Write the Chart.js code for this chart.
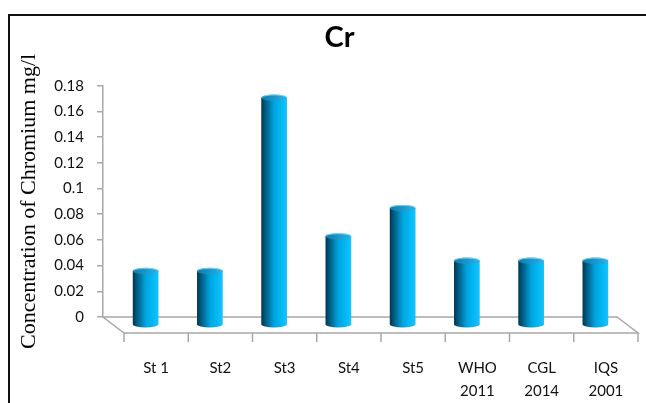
<!DOCTYPE html>
<html>
<head>
<meta charset="utf-8">
<script src="https://cdn.jsdelivr.net/npm/chart.js@4/dist/chart.umd.min.js"></script>
<style>
  html, body { margin: 0; padding: 0; background: #fff; }
  #wrap { position: relative; width: 646px; height: 403px; overflow: hidden; }
  #frame { position: absolute; left: 8px; top: 14px; width: 700px; height: 500px;
           border: 2px solid #111; box-sizing: border-box; }
  canvas { position: absolute; left: 0; top: 0; }
</style>
</head>
<body>
<div id="wrap">
  <div id="frame"></div>
  <canvas id="chart" width="646" height="403"></canvas>
</div>
<script>
// Sampling stations and reference standards
const categories = ['St 1', 'St2', 'St3', 'St4', 'St5', ['WHO', '2011'], ['CGL', '2014'], ['IQS', '2001']];
// Chromium concentration (mg/l)
const chromium = [0.042, 0.042, 0.177, 0.069, 0.091, 0.05, 0.05, 0.05];
// Value axis labels
const yTickLabels = ['0', '0.02', '0.04', '0.06', '0.08', '0.1', '0.12', '0.14', '0.16', '0.18'];

const AXIS_GRAY = '#a8a8a8';
const TEXT = '#111';
const DEPTH_X = 21;   // oblique depth of the floor
const DEPTH_Y = 16;
const CAP_RY = 3.2;   // vertical radius of the cylinder caps
const TITLE_SHIFT = 31; // title is centred on the whole frame, not the plot

function drawCylinder(ctx, cx, top, bottom, rx, ry) {
  const body = ctx.createLinearGradient(cx - rx, 0, cx + rx, 0);
  body.addColorStop(0, '#003650');
  body.addColorStop(0.18, '#005f86');
  body.addColorStop(0.5, '#00a4de');
  body.addColorStop(0.75, '#00b7f3');
  body.addColorStop(1, '#18c2ff');
  ctx.beginPath();
  ctx.moveTo(cx - rx, top);
  ctx.lineTo(cx - rx, bottom);
  ctx.ellipse(cx, bottom, rx, ry, 0, Math.PI, 0, true);
  ctx.lineTo(cx + rx, top);
  ctx.closePath();
  ctx.fillStyle = body;
  ctx.fill();

  const cap = ctx.createLinearGradient(cx - rx, 0, cx + rx, 0);
  cap.addColorStop(0, '#0a7cad');
  cap.addColorStop(1, '#2eb2e6');
  ctx.beginPath();
  ctx.ellipse(cx, top, rx, ry, 0, 0, Math.PI * 2);
  ctx.fillStyle = cap;
  ctx.fill();
  ctx.beginPath();
  ctx.ellipse(cx, top, rx - 0.5, ry - 0.5, 0, Math.PI * 1.05, Math.PI * 1.95);
  ctx.strokeStyle = 'rgba(150,215,240,0.8)';
  ctx.lineWidth = 1;
  ctx.stroke();
}

const cylinderPlugin = {
  id: 'cylinders',
  afterLayout(chart) {
    const t = chart.titleBlock;
    if (t) { t.left += TITLE_SHIFT; t.right += TITLE_SHIFT; }
  },
  beforeDatasetsDraw(chart) {
    const { ctx, chartArea, scales } = chart;
    const { left, right, bottom } = chartArea;
    ctx.save();
    ctx.strokeStyle = AXIS_GRAY;
    ctx.lineWidth = 1.5;
    // floor outline
    ctx.beginPath();
    ctx.moveTo(left, bottom);
    ctx.lineTo(right, bottom);
    ctx.lineTo(right + DEPTH_X, bottom + DEPTH_Y);
    ctx.lineTo(left + DEPTH_X, bottom + DEPTH_Y);
    ctx.closePath();
    ctx.stroke();
    // category tick marks along the front edge
    ctx.beginPath();
    for (let i = 0; i <= categories.length; i++) {
      const bx = scales.x.getPixelForValue(i - 0.5) + DEPTH_X;
      ctx.moveTo(bx, bottom + DEPTH_Y);
      ctx.lineTo(bx, bottom + DEPTH_Y + 9);
    }
    ctx.stroke();
    ctx.restore();
  },
  afterDatasetsDraw(chart) {
    const { ctx } = chart;
    const meta = chart.getDatasetMeta(0);
    ctx.save();
    meta.data.forEach(bar => {
      const { x, y, base, width } = bar.getProps(['x', 'y', 'base', 'width'], true);
      drawCylinder(ctx, x + DEPTH_X / 2, y + DEPTH_Y / 2, base + DEPTH_Y / 2, width / 2, CAP_RY);
    });
    ctx.restore();
  }
};

new Chart(document.getElementById('chart'), {
  type: 'bar',
  data: {
    labels: categories,
    datasets: [{
      label: 'Cr',
      data: chromium,
      backgroundColor: 'rgba(0,0,0,0)',
      borderWidth: 0,
      categoryPercentage: 1,
      barPercentage: 0.4
    }]
  },
  options: {
    responsive: false,
    animation: false,
    layout: { padding: { left: 0, right: 29, top: 0, bottom: 0 } },
    plugins: {
      legend: { display: false },
      tooltip: { enabled: false },
      title: {
        display: true,
        text: 'Cr',
        color: '#000',
        font: { family: 'Lato', size: 29, weight: 'bold', lineHeight: 1.2 },
        padding: { top: 20, bottom: 31 }
      }
    },
    scales: {
      x: {
        grid: { display: false, drawTicks: false },
        border: { display: false },
        ticks: {
          color: TEXT,
          font: { family: 'Lato', size: 15, lineHeight: 1.53 },
          padding: 40,
          labelOffset: DEPTH_X,
          maxRotation: 0,
          autoSkip: false
        },
        afterFit(scale) { scale.height = 86; }
      },
      y: {
        min: 0,
        max: 0.18,
        ticks: {
          stepSize: 0.02,
          color: TEXT,
          font: { family: 'Lato', size: 15 },
          padding: 13,
          callback: (v, i) => yTickLabels[i]
        },
        grid: { drawOnChartArea: false, drawTicks: true, tickLength: 6, color: AXIS_GRAY, lineWidth: 1.5 },
        border: { display: true, color: AXIS_GRAY, width: 1.5 },
        title: {
          display: true,
          text: 'Concentration of Chromium mg/l',
          color: '#000',
          font: { family: 'Liberation Serif', size: 22, lineHeight: 1.2 },
          padding: { top: 16, bottom: 0 }
        },
        afterFit(scale) { scale.width = 103; }
      }
    }
  },
  plugins: [cylinderPlugin]
});
</script>
</body>
</html>
